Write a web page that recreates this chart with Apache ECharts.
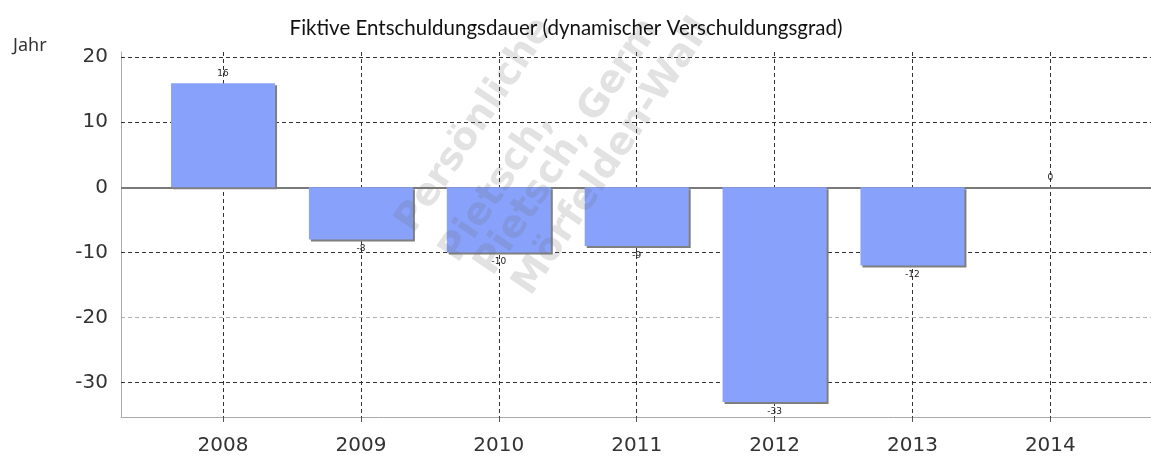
<!DOCTYPE html>
<html>
<head>
<meta charset="utf-8">
<script src="https://cdn.jsdelivr.net/npm/echarts@6/dist/echarts.min.js"></script>
<style>
  html, body { margin: 0; padding: 0; background: #ffffff; }
  #chart { width: 1151px; height: 456px; }
</style>
</head>
<body>
<div id="chart"></div>
<script>
// Years on the horizontal axis
const years = [2008, 2009, 2010, 2011, 2012, 2013, 2014];
// Fictitious debt repayment period in years
const values = [16, -8, -10, -9, -33, -12, 0];
// Horizontal grid lines (y values)
const yGridValues = [20, 10, -10, -20, -30];

const chart = echarts.init(document.getElementById('chart'), null, { renderer: 'canvas' });

const barData = years.map((y, i) => ({
  value: [y, values[i]],
  label: { position: values[i] < 0 ? 'bottom' : 'top' }
}));

const gridLines = yGridValues.map(v => ({
  yAxis: v,
  lineStyle: { color: v === -20 ? '#b0b0b0' : '#333333', type: [4, 3], width: 1 }
}));
gridLines.push({ yAxis: 0, lineStyle: { color: '#7a7a7a', type: 'solid', width: 2 } });

const axisFont = { fontFamily: 'DejaVu Sans', fontSize: 20, color: '#333333' };

// Diagonal watermark lines
const watermarkLines = ['Persönliche', 'Pietsch,', 'Pietsch, Germ', 'Mörfelden-Wall'];
const wmStarts = [[421, 239], [465, 269], [500, 282], [538, 302]];
const wmAngle = 56 * Math.PI / 180;

chart.setOption({
  animation: false,
  title: {
    text: 'Fiktive Entschuldungsdauer (dynamischer Verschuldungsgrad)',
    left: 561,
    textAlign: 'center',
    top: 13,
    textStyle: { fontFamily: 'Lato', fontSize: 20.5, fontWeight: 'normal', color: '#111111' }
  },
  graphic: [
    {
      type: 'text', left: 13, top: 37, z: 10,
      style: { text: 'Jahr', font: '18px "Noto Sans"', fill: '#333333' }
    }
  ].concat(watermarkLines.map((t, i) => ({
    type: 'text',
    x: wmStarts[i][0], y: wmStarts[i][1],
    rotation: wmAngle,
    z: 4,
    silent: true,
    style: {
      text: t,
      font: 'bold 38px "DejaVu Sans"',
      fill: 'rgba(110,110,110,0.2)',
      align: 'left',
      verticalAlign: 'bottom'
    }
  }))),
  grid: { left: 121, right: 0, top: 52, bottom: 39, containLabel: false },
  xAxis: {
    type: 'value',
    min: 2007.26,
    max: 2014.73,
    minInterval: 1,
    maxInterval: 1,
    axisLine: { show: true, onZero: false, lineStyle: { color: '#aaaaaa', width: 1 } },
    axisTick: { show: true, length: 5, lineStyle: { color: '#555555' } },
    axisLabel: {
      ...axisFont,
      margin: 19,
      showMinLabel: false,
      showMaxLabel: false,
      formatter: v => (Number.isInteger(v) ? String(v) : '')
    },
    splitLine: {
      show: true,
      showMinLine: false,
      showMaxLine: false,
      lineStyle: { color: '#333333', type: [4, 3], width: 1 }
    }
  },
  yAxis: {
    type: 'value',
    min: -35.3,
    max: 20.8,
    minInterval: 10,
    maxInterval: 10,
    axisLine: { show: true, lineStyle: { color: '#aaaaaa', width: 1 } },
    axisTick: { show: false },
    axisLabel: {
      ...axisFont,
      margin: 13,
      showMinLabel: false,
      showMaxLabel: false,
      formatter: v => (v % 10 === 0 ? String(v) : '')
    },
    splitLine: { show: false }
  },
  series: [
    {
      type: 'bar',
      data: barData,
      barWidth: 104,
      z: 3,
      itemStyle: {
        color: '#88a2fc',
        shadowColor: '#7f7f7f',
        shadowOffsetX: 2,
        shadowOffsetY: 2,
        shadowBlur: 0
      },
      label: {
        show: true,
        distance: 5,
        fontFamily: 'DejaVu Sans',
        fontSize: 9,
        color: '#222222',
        formatter: p => String(p.value[1])
      },
      markLine: {
        silent: true,
        symbol: 'none',
        z: 2,
        label: { show: false },
        data: gridLines
      }
    }
  ]
});
</script>
</body>
</html>
